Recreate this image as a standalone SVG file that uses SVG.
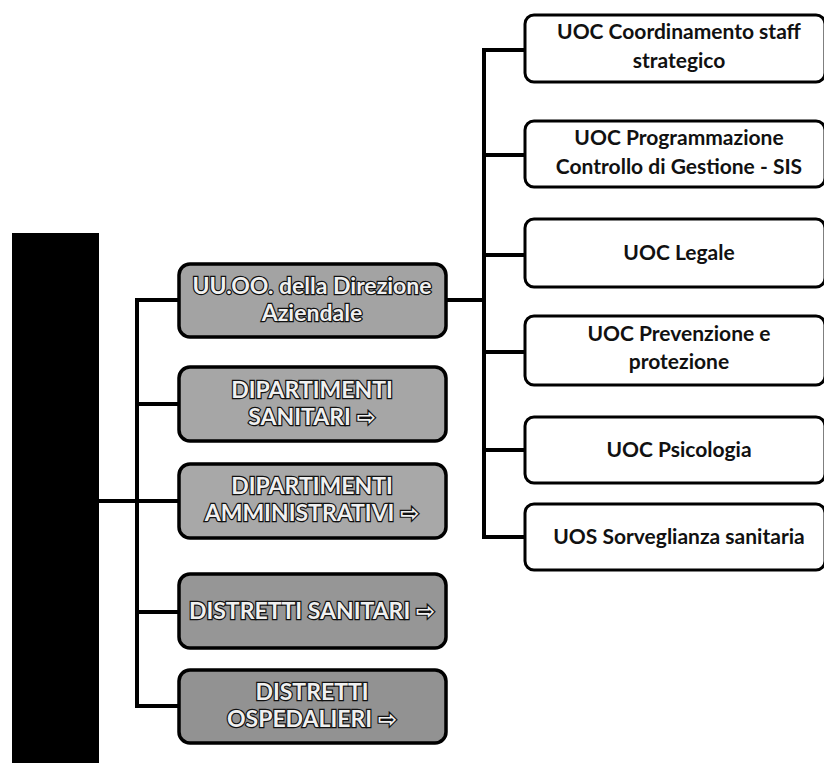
<svg xmlns="http://www.w3.org/2000/svg" width="824" height="763" viewBox="0 0 824 763">
<style>
.bar{fill:#000}
.gray{stroke:#000;stroke-width:3.5}
.white{fill:#fff;stroke:#000;stroke-width:3}
.conn{fill:none;stroke:#000;stroke-width:4;stroke-linejoin:miter}
.gt{font-family:"Lato","Open Sans","DejaVu Sans",sans-serif;font-weight:bold;font-size:23px;fill:#f0f0f0;stroke:#111;stroke-width:2.4;paint-order:stroke;text-anchor:middle}
.wt{font-family:"Lato","Open Sans","DejaVu Sans",sans-serif;font-weight:bold;font-size:21px;fill:#111;text-anchor:middle}
.arr{font-family:"DejaVu Sans",sans-serif}
</style>
<g id="root-bar"><rect class="bar" x="12" y="233" width="87" height="530"/></g>
<g id="connectors">
<path class="conn" d="M99 501 H178"/>
<path class="conn" d="M178 300 H137 V706 H178"/>
<path class="conn" d="M137 404 H178"/>
<path class="conn" d="M137 612 H178"/>
<path class="conn" d="M446 300 H484"/>
<path class="conn" d="M524 50 H484 V537 H524"/>
<path class="conn" d="M484 155 H524"/>
<path class="conn" d="M484 255 H524"/>
<path class="conn" d="M484 352 H524"/>
<path class="conn" d="M484 450 H524"/>
</g>
<g id="n-uuoo"><rect class="gray" x="179" y="264" width="267" height="73" rx="11" fill="#a3a3a3"/>
<text class="gt" x="312" y="294">UU.OO. della Direzione</text><text class="gt" x="312" y="321">Aziendale</text></g>
<g id="n-dipsan"><rect class="gray" x="179" y="367" width="267" height="74" rx="11" fill="#a6a6a6"/>
<text class="gt" x="312" y="398">DIPARTIMENTI</text><text class="gt" x="312" y="425">SANITARI <tspan class="arr">⇨</tspan></text></g>
<g id="n-dipamm"><rect class="gray" x="179" y="464" width="267" height="74" rx="11" fill="#a8a8a8"/>
<text class="gt" x="312" y="494">DIPARTIMENTI</text><text class="gt" x="312" y="521">AMMINISTRATIVI <tspan class="arr">⇨</tspan></text></g>
<g id="n-distsan"><rect class="gray" x="179" y="574" width="267" height="74" rx="11" fill="#969696"/>
<text class="gt" x="312" y="619">DISTRETTI SANITARI <tspan class="arr">⇨</tspan></text></g>
<g id="n-distosp"><rect class="gray" x="179" y="670" width="267" height="73" rx="11" fill="#929292"/>
<text class="gt" x="312" y="700">DISTRETTI</text><text class="gt" x="312" y="727">OSPEDALIERI <tspan class="arr">⇨</tspan></text></g>
<g id="n-coord"><rect class="white" x="525" y="15" width="300" height="67" rx="9"/>
<text class="wt" x="679" y="39">UOC Coordinamento staff</text><text class="wt" x="679" y="68">strategico</text></g>
<g id="n-prog"><rect class="white" x="525" y="121" width="300" height="66" rx="9"/>
<text class="wt" x="679" y="145">UOC Programmazione</text><text class="wt" x="679" y="174">Controllo di Gestione - SIS</text></g>
<g id="n-legale"><rect class="white" x="525" y="219" width="300" height="68" rx="9"/>
<text class="wt" x="679" y="260">UOC Legale</text></g>
<g id="n-prev"><rect class="white" x="525" y="316" width="300" height="69" rx="9"/>
<text class="wt" x="679" y="341">UOC Prevenzione e</text><text class="wt" x="679" y="369">protezione</text></g>
<g id="n-psico"><rect class="white" x="525" y="417" width="300" height="66" rx="9"/>
<text class="wt" x="679" y="457">UOC Psicologia</text></g>
<g id="n-uos"><rect class="white" x="525" y="504" width="300" height="66" rx="9"/>
<text class="wt" x="679" y="544">UOS Sorveglianza sanitaria</text></g>
</svg>
